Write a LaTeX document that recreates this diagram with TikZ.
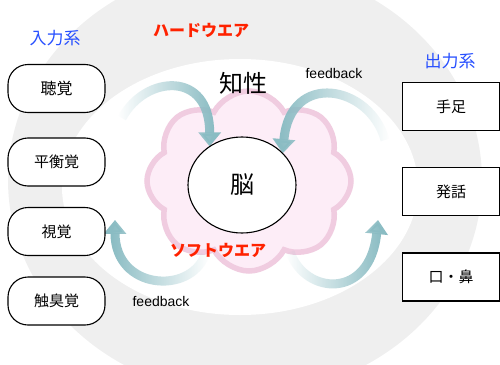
\documentclass[tikz,border=0pt]{standalone}
\usepackage{fontspec}
\setmainfont{Noto Sans CJK JP}
\newfontfamily\latf{Liberation Sans}
\usetikzlibrary{shapes.symbols,shapes.geometric,arrows.meta,fadings}
\definecolor{bandgray}{RGB}{239,239,239}
\definecolor{pinkline}{RGB}{240,204,224}
\definecolor{pinkfill}{RGB}{253,237,247}
\definecolor{arrowc}{RGB}{138,188,195}
\definecolor{jred}{RGB}{255,34,0}
\definecolor{jblue}{RGB}{40,80,255}
\tikzfading[name=fadeL, left color=transparent!100, middle color=transparent!25, right color=transparent!0]
\tikzfading[name=fadeR, left color=transparent!0, middle color=transparent!25, right color=transparent!100]
\tikzset{
  inbox/.style={draw, line width=1.1pt, fill=white, rounded corners=20pt, minimum width=97pt, minimum height=48pt, font=\fontsize{15}{17}\selectfont},
  outbox/.style={draw, line width=1.1pt, fill=white, minimum width=97pt, minimum height=48pt, font=\fontsize{15}{17}\selectfont},
  fbarrow/.style={draw=arrowc, line width=9pt, -{Triangle[length=14pt,width=22pt]}},
  redlbl/.style={text=jred, font=\fontsize{16}{18}\selectfont\bfseries},
  bluelbl/.style={text=jblue, font=\fontsize{17}{19}\selectfont},
  fblbl/.style={font=\latf\fontsize{14}{16}\selectfont}
}
\begin{document}
\begin{tikzpicture}[x=1pt,y=-1pt]
\useasboundingbox (0,0) rectangle (500,364);
\begin{scope}
\clip (0,0) rectangle (500,364);
\fill[bandgray] (245,180) ellipse [x radius=237, y radius=215];
\fill[white] (240,187) ellipse [x radius=178, y radius=128];
\end{scope}
\node[cloud, cloud puffs=8, cloud puff arc=125, aspect=1.12, minimum width=204pt, minimum height=180pt, draw=pinkline, line width=5.5pt, fill=pinkfill] (cloud) at (249,181) {};
\coordinate (t1) at (122,118);
\coordinate (t2) at (385,140);
\coordinate (t3) at (205,255);
\coordinate (h3) at (115,220);
\coordinate (t4) at (290,252);
\coordinate (h4) at (378,220);
\node[ellipse, minimum width=108pt, minimum height=96pt, inner sep=0pt] (brainref) at (242,185) {};
\path[fbarrow, path fading=fadeL] (t1) .. controls (145,75) and (210,70) .. (brainref.130);
\path[fbarrow, path fading=fadeR] (t2) .. controls (370,85) and (290,70) .. (brainref.38);
\path[fbarrow, path fading=fadeR] (t3) .. controls (190,295) and (115,290) .. (h3);
\path[fbarrow, path fading=fadeL] (t4) .. controls (305,295) and (370,300) .. (h4);
\node[ellipse, draw, line width=1.1pt, fill=white, minimum width=108pt, minimum height=96pt, inner sep=0pt, font=\fontsize{24}{26}\selectfont] (brain) at (242,185) {脳};
\node[font=\fontsize{24}{26}\selectfont] (chisei) at (243,83) {知性};
\node[redlbl] (hard) at (201,30) {ハードウエア};
\node[redlbl] (soft) at (218,250) {ソフトウエア};
\node[bluelbl] (inlbl) at (55,38) {入力系};
\node[bluelbl] (outlbl) at (450,61) {出力系};
\node[fblbl] (fb1) at (334,73) {feedback};
\node[fblbl] (fb2) at (161,301) {feedback};
\node[inbox, font=\fontsize{16}{18}\selectfont] (in1) at (56.5,88.5) {聴覚};
\node[inbox] (in2) at (56.5,162) {平衡覚};
\node[inbox] (in3) at (56.5,231.5) {視覚};
\node[inbox] (in4) at (56.5,301) {触臭覚};
\node[outbox] (out1) at (451,106.5) {手足};
\node[outbox] (out2) at (451,191.5) {発話};
\node[outbox] (out3) at (451,277) {口・鼻};
\end{tikzpicture}
\end{document}
